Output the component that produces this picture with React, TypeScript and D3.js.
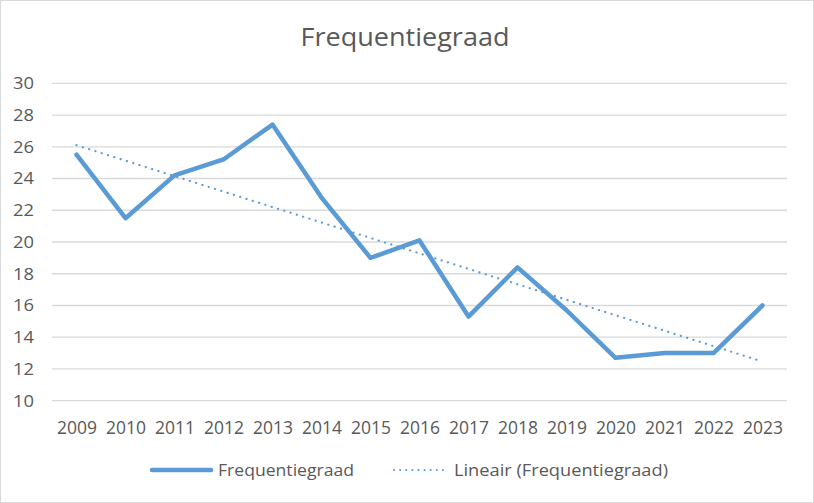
import React from "react";
import * as d3 from "d3";

const years = ["2009","2010","2011","2012","2013","2014","2015","2016","2017","2018","2019","2020","2021","2022","2023"];
const values = [25.5, 21.5, 24.2, 25.2, 27.4, 22.8, 19.0, 20.1, 15.3, 18.4, 15.7, 12.7, 13.0, 13.0, 16.0];
const yTicks = [10, 12, 14, 16, 18, 20, 22, 24, 26, 28, 30];
const title = "Frequentiegraad";
const seriesName = "Frequentiegraad";
const trendName = "Lineair (Frequentiegraad)";

const W = 814, H = 503;
const BLUE = "#5B9BD5";
const TEXT = "#595959";
const GRID = "#D9D9D9";
const FONT = "'Open Sans', 'Noto Sans', sans-serif";

export default function App() {
  const x = d3.scaleBand<string>().domain(years).range([52, 787]);
  const y = d3.scaleLinear().domain([10, 30]).range([400.7, 83.3]);
  const cx = (yr: string) => (x(yr) as number) + x.bandwidth() / 2;

  // linear regression for trendline
  const n = values.length;
  const xs = values.map((_, i) => i);
  const mx = d3.mean(xs) as number;
  const my = d3.mean(values) as number;
  const sxy = d3.sum(xs.map((xi, i) => (xi - mx) * (values[i] - my)));
  const sxx = d3.sum(xs.map((xi) => (xi - mx) ** 2));
  const slope = sxy / sxx;
  const icpt = my - slope * mx;
  const trend = [0, n - 1].map((i) => [cx(years[i]), y(icpt + slope * i)] as [number, number]);

  const line = d3.line<number>().x((_, i) => cx(years[i])).y((d) => y(d));

  return (
    <svg width={W} height={H} style={{ position: "absolute", left: 0, top: 0, background: "#fff" }}>
      <rect x={0.5} y={0.5} width={W - 1} height={H - 1} fill="#fff" stroke={GRID} />
      <text x={405} y={46} textAnchor="middle" fontFamily={FONT} fontSize={25} fill={TEXT}
        textLength={209} lengthAdjust="spacingAndGlyphs">{title}</text>
      {yTicks.map((t) => (
        <g key={t}>
          <line x1={52} x2={787} y1={y(t)} y2={y(t)} stroke={GRID} strokeWidth={1.3} />
          <text x={34} y={y(t)} dy="0.36em" textAnchor="end" fontFamily={FONT} fontSize={16.5} fill={TEXT}
            textLength={21} lengthAdjust="spacingAndGlyphs">{t}</text>
        </g>
      ))}
      {years.map((yr) => (
        <text key={yr} x={cx(yr) + 0.5} y={434} textAnchor="middle" fontFamily={FONT} fontSize={17.5} fill={TEXT}
          textLength={40} lengthAdjust="spacingAndGlyphs">{yr}</text>
      ))}
      <path d={line(values) as string} fill="none" stroke={BLUE} strokeWidth={4.5} strokeLinejoin="round" strokeLinecap="round" />
      <line x1={trend[0][0]} y1={trend[0][1]} x2={trend[1][0] - 4} y2={trend[1][1]} stroke={BLUE}
        strokeWidth={2.2} strokeDasharray="0.1 6.5" strokeLinecap="round" />
      <line x1={152} x2={211} y1={470} y2={470} stroke={BLUE} strokeWidth={4.5} strokeLinecap="round" />
      <text x={218} y={470} dy="0.35em" fontFamily={FONT} fontSize={16.5} fill={TEXT}
        textLength={136} lengthAdjust="spacingAndGlyphs">{seriesName}</text>
      <line x1={394} x2={447} y1={470} y2={470} stroke={BLUE} strokeWidth={2} strokeDasharray="0.1 6" strokeLinecap="round" />
      <text x={454} y={470} dy="0.35em" fontFamily={FONT} fontSize={16.5} fill={TEXT}
        textLength={214} lengthAdjust="spacingAndGlyphs">{trendName}</text>
    </svg>
  );
}
